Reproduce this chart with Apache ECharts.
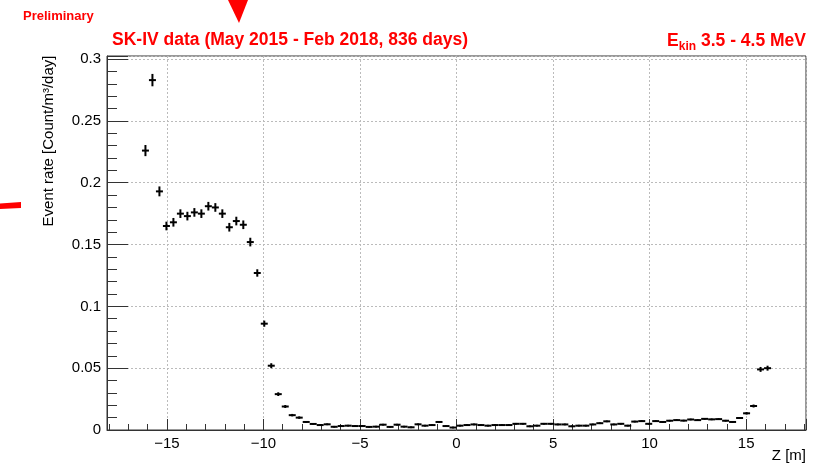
<!DOCTYPE html>
<html>
<head>
<meta charset="utf-8">
<script src="https://cdn.jsdelivr.net/npm/echarts@6/dist/echarts.min.js"></script>
<style>
    html, body { margin: 0; padding: 0; background: #fff; }
    #main { width: 821px; height: 468px; }
</style>
</head>
<body>
<div id="main"></div>
<script>
// histogram binning along Z (0.362 m bins), first filled bin starts at -16.29 m
const binLow = -16.29;
const binWidth = 0.362;

// event rate per bin [Count/m3/day]
const rates = [
    0.226, 0.283, 0.193, 0.165, 0.168, 0.175, 0.173, 0.176, 0.175, 0.181,
    0.180, 0.175, 0.164, 0.169, 0.166, 0.152, 0.127, 0.086, 0.052, 0.029,
    0.019, 0.012, 0.010, 0.0065, 0.0049, 0.0040, 0.0046, 0.0026, 0.0032, 0.0035,
    0.0032, 0.0032, 0.0025, 0.0027, 0.0043, 0.0025, 0.0043, 0.0027, 0.0022, 0.0046,
    0.0035, 0.0040, 0.0065, 0.0032, 0.0020, 0.0035, 0.0040, 0.0045, 0.0040, 0.0035,
    0.0040, 0.0040, 0.0040, 0.0050, 0.0050, 0.0030, 0.0035, 0.0050, 0.0050, 0.0045,
    0.0045, 0.0030, 0.0035, 0.0035, 0.0045, 0.0055, 0.0070, 0.0045, 0.0050, 0.0035,
    0.0068, 0.0072, 0.0050, 0.0072, 0.0065, 0.0075, 0.0080, 0.0076, 0.0085, 0.0080,
    0.0090, 0.0086, 0.0088, 0.0075, 0.0065, 0.0097, 0.0135, 0.0194, 0.049, 0.050
];

// statistical error per bin
const errors = [
    0.0045, 0.005, 0.004, 0.0035, 0.0035, 0.0035, 0.0035, 0.0035, 0.0035, 0.0035,
    0.0035, 0.0035, 0.0035, 0.0035, 0.0035, 0.0035, 0.003, 0.0025, 0.002, 0.0015,
    0.0012, 0.001, 0.001, 0.0008, 0.0007, 0.0007, 0.0007, 0.0007, 0.0007, 0.0007,
    0.0007, 0.0007, 0.0007, 0.0007, 0.0007, 0.0007, 0.0007, 0.0007, 0.0007, 0.0007,
    0.0007, 0.0007, 0.0007, 0.0007, 0.0007, 0.0007, 0.0007, 0.0007, 0.0007, 0.0007,
    0.0007, 0.0007, 0.0007, 0.0007, 0.0007, 0.0007, 0.0007, 0.0007, 0.0007, 0.0007,
    0.0007, 0.0007, 0.0007, 0.0007, 0.0007, 0.0007, 0.0007, 0.0007, 0.0007, 0.0007,
    0.0007, 0.0007, 0.0007, 0.0007, 0.0007, 0.0007, 0.0007, 0.0007, 0.0007, 0.0007,
    0.0007, 0.0007, 0.0007, 0.0007, 0.0007, 0.0008, 0.001, 0.0012, 0.002, 0.002
];

const xTicks = [-15, -10, -5, 0, 5, 10, 15];
const yTicks = [0, 0.05, 0.1, 0.15, 0.2, 0.25, 0.3];

const FONT = '"Liberation Sans", Arial, Helvetica, sans-serif';
const RED = '#ff0000';

let points = [];
for (let i = 0; i < rates.length; i++) {
    let z = binLow + binWidth * (i + 0.5);
    points.push([z, rates[i], errors[i]]);
}

const chart = echarts.init(document.getElementById('main'), null, { renderer: 'canvas' });

let renderErr = function (params, api) {
    let z = api.value(0);
    let v = api.value(1);
    let e = api.value(2);
    let left = api.coord([z - binWidth / 2, v]);
    let right = api.coord([z + binWidth / 2, v]);
    let top = api.coord([z, v + e]);
    let bottom = api.coord([z, v - e]);
    let style = { stroke: '#000', lineWidth: 2 };
    return {
        type: 'group',
        children: [
            { type: 'line', shape: { x1: left[0], y1: left[1], x2: right[0], y2: right[1] }, style: style },
            { type: 'line', shape: { x1: top[0], y1: top[1], x2: bottom[0], y2: bottom[1] }, style: style }
        ]
    };
};

option = {
    animation: false,
    title: [
        {
            text: 'Preliminary',
            left: 23,
            top: 10,
            padding: 0,
            textStyle: { color: RED, fontFamily: FONT, fontWeight: 'bold', fontSize: 13 }
        },
        {
            text: 'SK-IV data (May 2015 - Feb 2018, 836 days)',
            left: 112,
            top: 31,
            padding: 0,
            textStyle: { color: RED, fontFamily: FONT, fontWeight: 'bold', fontSize: 17.5 }
        },
        {
            text: '{e|E}{s|kin}{e| 3.5 - 4.5 MeV}',
            right: 15,
            top: 29,
            padding: 0,
            textStyle: {
                rich: {
                    e: { color: RED, fontFamily: FONT, fontWeight: 'bold', fontSize: 17.5, lineHeight: 24 },
                    s: { color: RED, fontFamily: FONT, fontWeight: 'bold', fontSize: 12, lineHeight: 12, verticalAlign: 'bottom' }
                }
            }
        }
    ],
    grid: {
        left: 107,
        right: 15,
        top: 56,
        bottom: 38,
        show: true,
        borderColor: '#333',
        borderWidth: 1,
        containLabel: false
    },
    xAxis: {
        type: 'value',
        min: -18.1,
        max: 18.1,
        splitNumber: 7,
        axisLine: { show: true, onZero: false, lineStyle: { color: '#333', width: 1 } },
        axisTick: { show: true, inside: true, length: 11, lineStyle: { color: '#333' } },
        minorTick: { show: true, splitNumber: 5, length: 6, lineStyle: { color: '#333' } },
        axisLabel: {
            showMinLabel: false,
            showMaxLabel: false,
            margin: 6,
            color: '#000',
            fontFamily: FONT,
            fontSize: 15,
            formatter: function (v) {
                if (xTicks.indexOf(v) < 0) return '';
                return String(v).replace('-', '\u2212');
            }
        },
        splitLine: { show: true, lineStyle: { color: '#bbb', type: [2, 2], width: 1 } }
    },
    yAxis: {
        type: 'value',
        min: 0,
        max: 0.3025,
        interval: 0.05,
        axisLine: { show: true, onZero: false, lineStyle: { color: '#333', width: 1 } },
        axisTick: { show: true, inside: true, length: 21, lineStyle: { color: '#333' } },
        minorTick: { show: true, splitNumber: 5, length: 10, lineStyle: { color: '#333' } },
        axisLabel: {
            showMaxLabel: false,
            margin: 6,
            color: '#000',
            fontFamily: FONT,
            fontSize: 15,
            formatter: function (v) {
                for (let i = 0; i < yTicks.length; i++) {
                    if (Math.abs(yTicks[i] - v) < 1e-9) return String(yTicks[i]);
                }
                return '';
            }
        },
        splitLine: { show: true, lineStyle: { color: '#bbb', type: [2, 2], width: 1 } }
    },
    graphic: [
        {
            type: 'text',
            x: 49,
            y: 141,
            rotation: Math.PI / 2,
            style: {
                text: 'Event rate [Count/m\u00b3/day]',
                fill: '#000',
                font: '15px ' + FONT,
                align: 'center',
                verticalAlign: 'middle'
            }
        },
        {
            type: 'text',
            x: 806,
            y: 456,
            style: {
                text: 'Z [m]',
                fill: '#000',
                font: '15px ' + FONT,
                align: 'right',
                verticalAlign: 'middle'
            }
        },
        {
            type: 'polygon',
            shape: { points: [[228, 0], [248, 0], [239, 23]] },
            style: { fill: RED }
        },
        {
            type: 'polygon',
            shape: { points: [[0, 203.5], [21, 202], [21, 208], [0, 209]] },
            style: { fill: RED }
        }
    ],
    series: [
        {
            type: 'custom',
            renderItem: renderErr,
            data: points,
            encode: { x: 0, y: 1 },
            clip: true
        }
    ]
};

chart.setOption(option);
</script>
</body>
</html>
